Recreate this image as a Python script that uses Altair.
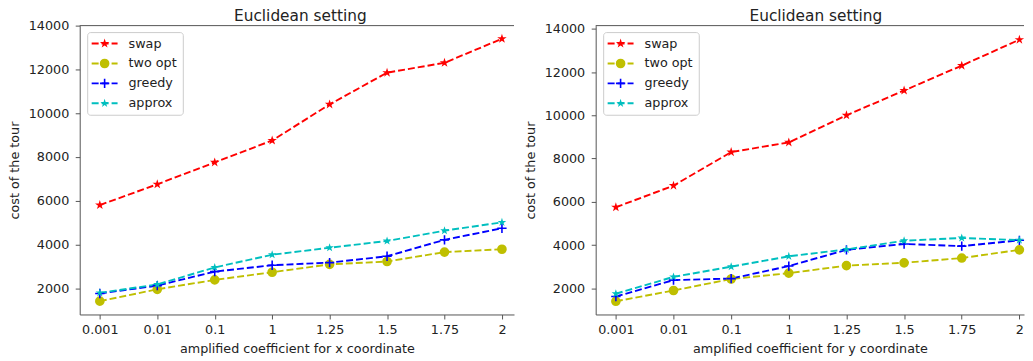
import json
import pandas as pd
import altair as alt

# ---------------- data ----------------
TITLE = "Euclidean setting"
X_LABELS = ["0.001", "0.01", "0.1", "1", "1.25", "1.5", "1.75", "2"]
SERIES = ["swap", "two opt", "greedy", "approx"]

# left panel: amplified coefficient for x coordinate
X_SWAP = [5800, 6750, 7750, 8750, 10400, 11850, 12300, 13400]
X_TWO_OPT = [1410, 1950, 2380, 2730, 3090, 3220, 3650, 3780]
X_GREEDY = [1760, 2120, 2760, 3050, 3170, 3460, 4210, 4740]
X_APPROX = [1790, 2170, 2950, 3530, 3850, 4160, 4630, 5010]

# right panel: amplified coefficient for y coordinate
Y_SWAP = [5750, 6750, 8300, 8750, 10000, 11150, 12300, 13500]
Y_TWO_OPT = [1400, 1900, 2430, 2700, 3050, 3180, 3400, 3780]
Y_GREEDY = [1620, 2380, 2450, 3030, 3780, 4050, 3950, 4220]
Y_APPROX = [1750, 2530, 3000, 3480, 3800, 4200, 4330, 4230]

Y_TICKS = [2000, 4000, 6000, 8000, 10000, 12000, 14000]

# ---------------- styles ----------------
FONT = "DejaVu Sans"
TXT = "#222222"
SPINE = "#555555"
COLORS = ["#ff0000", "#bfbf00", "#0000ff", "#00bfbf"]
STAR = ("M0,-1L0.2245,-0.309L0.9511,-0.309L0.3633,0.118L0.5878,0.809"
        "L0,0.382L-0.5878,0.809L-0.3633,0.118L-0.9511,-0.309L-0.2245,-0.309Z")
PLUS = "M-1,-0.17H1V0.17H-1Z M-0.17,-1H0.17V1H-0.17Z"
SHAPES = [STAR, "circle", PLUS, STAR]
SIZES = [100, 81, 81, 100]
DASH = [7, 3]
LW = 1.9
H = 290


def long_df(series_values):
    rows = []
    for name, vals in zip(SERIES, series_values):
        for i, (lab, v) in enumerate(zip(X_LABELS, vals)):
            rows.append({"idx": i, "label": lab, "series": name, "value": v})
    return pd.DataFrame(rows)


color_enc = alt.Color("series:N", scale=alt.Scale(domain=SERIES, range=COLORS), legend=None)
shape_enc = alt.Shape("series:N", scale=alt.Scale(domain=SERIES, range=SHAPES), legend=None)
size_enc = alt.Size("series:N", scale=alt.Scale(domain=SERIES, range=SIZES), legend=None)

label_expr = json.dumps(X_LABELS) + "[datum.value]"


def panel(df, x_title, x_domain, y_domain, width, title_dx):
    x_enc = alt.X(
        "idx:Q",
        scale=alt.Scale(domain=x_domain, nice=False, zero=False),
        axis=alt.Axis(values=list(range(len(X_LABELS))), labelExpr=label_expr,
                      title=x_title, labelPadding=4.5, titlePadding=6,
                      labelFlush=False),
    )
    y_enc = alt.Y(
        "value:Q",
        scale=alt.Scale(domain=y_domain, nice=False, zero=False),
        axis=alt.Axis(values=Y_TICKS, format="d", title="cost of the tour",
                      labelPadding=6.5, titlePadding=6.5),
    )
    base = alt.Chart(df)
    lines = base.mark_line(strokeDash=DASH, strokeWidth=LW).encode(
        x=x_enc, y=y_enc, color=color_enc)
    points = base.mark_point(filled=True, opacity=1).encode(
        x=x_enc, y=y_enc, color=color_enc, shape=shape_enc, size=size_enc)
    one = pd.DataFrame({"t": [TITLE]})
    top_spine = alt.Chart(one).mark_rule(color=SPINE, strokeWidth=1).encode(
        x=alt.value(0), x2=alt.value(width), y=alt.value(0))
    title = alt.Chart(one).mark_text(
        font=FONT, fontSize=15.4, color=TXT, align="center",
        baseline="alphabetic").encode(
        x=alt.value(width / 2 + title_dx), y=alt.value(-5), text="t:N")
    main = alt.layer(lines, points, top_spine, title)

    leg_df = pd.DataFrame({"series": SERIES})
    leg_y = alt.Y("series:N", scale=alt.Scale(type="point", domain=SERIES,
                                              range=[18, 78], padding=0), axis=None)
    box = alt.Chart(one).mark_rect(
        fill="white", fillOpacity=0.8, stroke="#cccccc", strokeWidth=1,
        cornerRadius=3).encode(
        x=alt.value(8), x2=alt.value(104), y=alt.value(7), y2=alt.value(90))
    leg_lines = alt.Chart(leg_df).mark_rule(strokeDash=DASH, strokeWidth=LW).encode(
        x=alt.value(12), x2=alt.value(38), y=leg_y, color=color_enc)
    leg_pts = alt.Chart(leg_df).mark_point(filled=True, opacity=1).encode(
        x=alt.value(25), y=leg_y, color=color_enc, shape=shape_enc, size=size_enc)
    leg_txt = alt.Chart(leg_df).mark_text(
        align="left", baseline="middle", font=FONT, fontSize=12.8, color=TXT).encode(
        x=alt.value(49), y=leg_y, text="series:N")
    legend = alt.layer(box, leg_lines, leg_pts, leg_txt)

    return alt.layer(main, legend).resolve_scale(y="independent").properties(
        width=width, height=H)


left = panel(long_df([X_SWAP, X_TWO_OPT, X_GREEDY, X_APPROX]),
             "amplified coefficient for x coordinate", [-0.35, 7.21], [800, 14000], 436, 3.5)
right = panel(long_df([Y_SWAP, Y_TWO_OPT, Y_GREEDY, Y_APPROX]),
              "amplified coefficient for y coordinate", [-0.35, 7.08], [790, 14150], 430, 6)

chart = alt.hconcat(left, right, spacing=9).properties(
    padding=0, background="white"
).configure_view(stroke=None).configure_axis(
    labelFont=FONT, titleFont=FONT, labelFontSize=12.8, titleFontSize=12.8,
    titleFontWeight="normal", labelColor=TXT, titleColor=TXT,
    domainColor=SPINE, tickColor=SPINE, domainWidth=1, tickWidth=1,
    tickSize=4.5, grid=False,
)

chart.save("out.html", embed_options={"renderer": "svg", "actions": False})
